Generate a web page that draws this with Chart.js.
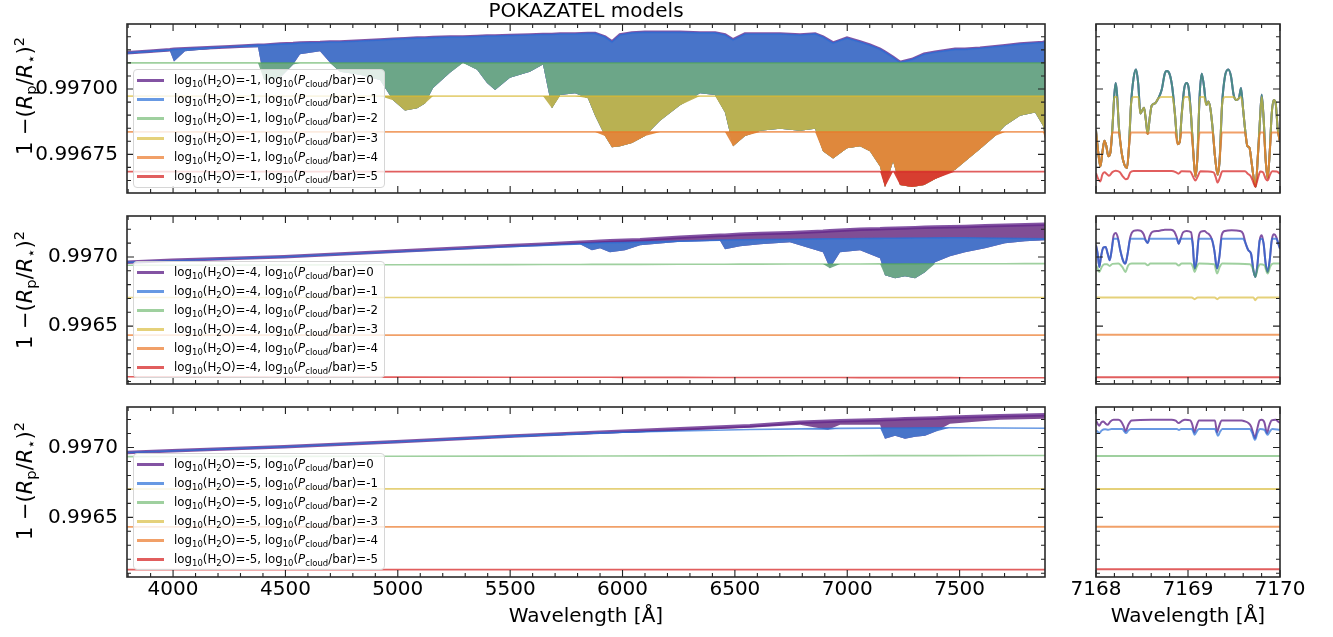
<!DOCTYPE html>
<html>
<head>
<meta charset="utf-8">
<script src="https://cdn.jsdelivr.net/npm/chart.js@4.4.1/dist/chart.umd.min.js"></script>
<style>
  html, body { margin: 0; padding: 0; background: #fff; }
  #fig { position: relative; width: 1333px; height: 637px; overflow: hidden; font-family: "DejaVu Sans", sans-serif; color: #000; }
  .ylab { position: absolute; font-size: 21px; white-space: pre; transform: translate(-50%, -50%) rotate(-90deg); }
  .ylab sub { font-size: 0.7em; vertical-align: -0.25em; line-height: 0; }
  .ylab sup { font-size: 0.7em; vertical-align: 0.55em; line-height: 0; }
  .legend { position: absolute; left: 133px; background: rgba(255,255,255,0.8); border: 1px solid #d6d6d6; border-radius: 4px; padding: 1px 6px 1px 3px; font-size: 11.8px; }
  .legend div { white-space: nowrap; }
  .legend .h { display: inline-block; width: 27px; height: 3px; margin-right: 10px; vertical-align: middle; }
  .legend sub { font-size: 0.72em; vertical-align: -0.3em; line-height: 0; }
</style>
</head>
<body>
<div id="fig"></div>
<script>
// labels
const h2oLabels = ['-1', '-4', '-5'];
const pcloudLabels = ['0', '-1', '-2', '-3', '-4', '-5'];

// transit depth (R_p/R_*)^2 in ppm; plotted as 1 - depth

// --- log10(H2O) = -1, broad range
const wlTop = [3795,3897,3986,4004,4053,4253,4378,4405,4476,4534,4565,4654,4698,4743,4832,4921,4979,5032,5086,5121,5157,5232,5290,5353,5397,5433,5499,5588,5646,5686,5722,5789,5846,5878,5922,5953,5989,6042,6100,6167,6256,6345,6412,6456,6492,6545,6612,6701,6790,6857,6892,6937,6999,7057,7101,7146,7168,7204,7235,7288,7342,7391,7480,7524,7591,7658,7702,7769,7836,7871,7880];
const contTop = [2861,2855,2850,2848,2846,2838,2832,2832,2828,2826,2824,2822,2820,2820,2816,2812,2809,2807,2805,2805,2803,2801,2801,2799,2797,2797,2795,2793,2791,2791,2789,2789,2787,2787,2801,2820,2793,2785,2783,2783,2783,2785,2785,2793,2812,2789,2789,2789,2793,2789,2801,2824,2805,2820,2832,2848,2859,2879,2898,2887,2867,2859,2848,2848,2844,2838,2834,2828,2824,2822,2820];
const deepTop = [2865,2859,2854,2895,2855,2840,2840,2965,2957,2906,2867,2855,2898,2934,2945,2965,3043,3082,3074,3055,2996,2938,2898,2926,2977,3004,2957,2934,2906,3074,3023,3016,3035,3102,3180,3223,3219,3207,3180,3121,3062,3016,3023,3090,3219,3180,3160,3152,3160,3152,3238,3266,3227,3219,3238,3297,3375,3277,3367,3375,3367,3344,3309,3277,3230,3180,3141,3102,3090,3141,3187];

// cloud decks (flat levels unless given as a curve)
const edgeWl = [3795, 7880];
const cloudTopGreen = [2900, 2900];
const cloudTopYellow = [3027, 3027];
const cloudTopOrange = [3164, 3164];
const cloudTopRed = [3316, 3316];

// --- log10(H2O) = -4
const wlMid = [3795,3995,4494,4992,5490,5646,5811,5864,5900,5944,6011,6078,6256,6434,6456,6523,6612,6745,6892,6923,6968,7057,7146,7168,7213,7257,7302,7346,7391,7457,7524,7613,7702,7791,7880];
const contMid = [3038,3024,2999,2959,2919,2908,2894,2890,2887,2883,2880,2876,2858,2843,2843,2836,2831,2825,2815,2811,2807,2800,2797,2795,2793,2791,2788,2786,2784,2781,2779,2775,2771,2768,2764];
const deepMid = [3042,3027,3002,2962,2926,2916,2908,2952,2937,2966,2952,2916,2890,2883,2944,2923,2908,2894,2966,3082,2966,2952,3009,3132,3154,3139,3154,3110,3038,2995,2966,2937,2901,2887,2880];
const cloudWl = [3795, 4494, 4992, 5490, 5908, 6501, 7022, 7499, 7880];
const cloudMidBlue = [3038, 2999, 2962, 2926, 2899, 2876, 2867, 2861, 2869];
const cloudMidGreen = [3060, 3048];
const cloudMidYellow = [3293, 3293];
const cloudMidOrange = [3565, 3565];
const cloudMidRed = [3866, 3873];

// --- log10(H2O) = -5
const wlBot = [3795,3995,4494,4992,5490,5900,6256,6567,6790,6914,6968,7146,7168,7213,7257,7302,7346,7391,7457,7680,7880];
const contBot = [3036,3024,2995,2959,2920,2891,2866,2844,2819,2812,2808,2801,2800,2797,2794,2792,2790,2788,2783,2772,2765];
const deepBot = [3038,3027,2999,2963,2927,2902,2880,2858,2837,2873,2837,2837,2938,2916,2938,2923,2916,2887,2830,2801,2794];
const cloudBotBlue = [3036, 2995, 2959, 2920, 2894, 2873, 2862, 2858, 2862];
const cloudBotGreen = [3065, 3057];
const cloudBotYellow = [3297, 3295];
const cloudBotOrange = [3568, 3568];
const cloudBotRed = [3874, 3874];

// --- zoom 7168-7170 A
const zoomEdge = [7168, 7170];
const zTopWl = [7168.000,7168.025,7168.047,7168.069,7168.091,7168.112,7168.134,7168.156,7168.178,7168.199,7168.214,7168.228,7168.250,7168.279,7168.308,7168.337,7168.359,7168.380,7168.409,7168.435,7168.460,7168.482,7168.504,7168.522,7168.540,7168.562,7168.583,7168.605,7168.641,7168.678,7168.714,7168.750,7168.772,7168.801,7168.830,7168.859,7168.888,7168.909,7168.931,7168.960,7168.986,7169.007,7169.033,7169.058,7169.080,7169.101,7169.127,7169.149,7169.174,7169.199,7169.221,7169.243,7169.268,7169.293,7169.322,7169.344,7169.370,7169.402,7169.438,7169.467,7169.496,7169.525,7169.554,7169.576,7169.598,7169.620,7169.645,7169.667,7169.692,7169.717,7169.736,7169.757,7169.783,7169.801,7169.822,7169.844,7169.866,7169.888,7169.909,7169.931,7169.953,7169.975,7170.000];
const zTopClear = [3159,3244,3296,3244,3198,3218,3257,3244,3152,3022,2977,3016,3152,3244,3289,3302,3218,3061,2957,2925,2983,3094,3081,3072,3113,3172,3113,3064,3055,3035,3003,2938,2931,2944,2996,3100,3211,3204,3100,2996,2977,2996,3100,3244,3335,3270,3022,2941,2990,3061,3048,3074,3152,3257,3328,3270,3061,2951,2925,2951,3022,3042,3035,2996,3074,3152,3218,3224,3283,3348,3374,3270,3113,3022,3113,3270,3341,3244,3100,3042,3055,3152,3204];
const zTopYellowDeck = 3030;
const zTopOrangeDeck = 3166;
const zTopRedWl = [7168.000,7168.025,7168.047,7168.069,7168.091,7168.120,7168.141,7168.178,7168.214,7168.257,7168.293,7168.322,7168.344,7168.373,7168.409,7168.822,7168.866,7168.895,7168.931,7169.025,7169.054,7169.080,7169.105,7169.134,7169.279,7169.301,7169.322,7169.348,7169.373,7169.620,7169.649,7169.678,7169.707,7169.732,7169.757,7169.786,7169.815,7169.844,7169.866,7169.891,7169.917,7169.964,7170.000];
const zTopRed = [3322,3345,3354,3328,3319,3326,3332,3318,3313,3318,3335,3345,3343,3319,3314,3314,3318,3324,3315,3316,3335,3350,3335,3315,3319,3337,3358,3337,3315,3315,3324,3332,3354,3374,3345,3316,3319,3343,3350,3328,3315,3316,3324];

const zMidWl = [7168.000,7168.018,7168.036,7168.054,7168.080,7168.105,7168.127,7168.149,7168.170,7168.192,7168.214,7168.236,7168.264,7168.293,7168.319,7168.344,7168.373,7168.409,7168.453,7168.489,7168.518,7168.540,7168.562,7168.583,7168.612,7168.678,7168.750,7168.815,7168.851,7168.877,7168.899,7168.920,7168.946,7168.986,7169.033,7169.051,7169.072,7169.094,7169.116,7169.141,7169.178,7169.207,7169.228,7169.257,7169.286,7169.315,7169.341,7169.366,7169.402,7169.475,7169.565,7169.598,7169.627,7169.656,7169.685,7169.714,7169.732,7169.754,7169.779,7169.801,7169.822,7169.844,7169.866,7169.888,7169.913,7169.935,7169.960,7169.982,7170.000];
const zMidPurple = [2916,2976,3072,3000,2932,2928,2976,3024,2952,2843,2827,2856,2952,3024,3048,2976,2856,2812,2807,2812,2836,2880,2899,2851,2819,2812,2803,2803,2817,2856,2904,2868,2822,2812,2822,2904,3084,3024,2856,2817,2812,2827,2836,2868,2952,3084,3000,2843,2812,2807,2812,2831,2904,2952,2976,3108,3144,3060,2880,2843,2904,3048,3108,3024,2868,2836,2856,2904,2940];
const zMidBlueDeck = 2868;
const zMidGreenWl = [7168.000,7168.018,7168.036,7168.062,7168.091,7168.120,7168.149,7168.178,7168.243,7168.286,7168.319,7168.351,7168.388,7168.533,7168.562,7168.591,7168.866,7168.899,7168.931,7169.033,7169.054,7169.072,7169.094,7169.120,7169.286,7169.315,7169.344,7169.373,7169.674,7169.710,7169.732,7169.757,7169.786,7169.830,7169.866,7169.895,7169.928,7170.000];
const zMidGreen = [3060,3084,3108,3072,3053,3053,3065,3050,3048,3072,3108,3060,3048,3048,3060,3048,3048,3062,3048,3048,3072,3108,3072,3048,3053,3120,3072,3048,3053,3096,3144,3084,3053,3060,3120,3067,3048,3048];
const zMidYellowWl = [7168.000,7169.040,7169.072,7169.105,7169.290,7169.318,7169.345,7169.710,7169.732,7169.757,7170.000];
const zMidYellow = [3293,3293,3305,3293,3293,3305,3293,3293,3312,3293,3293];
const zMidOrange = [3563, 3563];
const zMidRed = [3870, 3870];

const zBotPurpleWl = [7168.000,7168.018,7168.036,7168.058,7168.080,7168.105,7168.127,7168.156,7168.192,7168.243,7168.272,7168.301,7168.322,7168.351,7168.388,7168.605,7168.822,7168.866,7168.899,7168.931,7168.967,7169.025,7169.047,7169.069,7169.091,7169.120,7169.293,7169.315,7169.337,7169.366,7169.583,7169.620,7169.656,7169.685,7169.714,7169.728,7169.750,7169.779,7169.801,7169.830,7169.859,7169.880,7169.909,7169.953,7169.982,7170.000];
const zBotPurple = [2806,2830,2844,2820,2813,2830,2837,2813,2801,2801,2813,2849,2885,2837,2806,2801,2801,2808,2825,2811,2801,2806,2837,2892,2849,2806,2806,2892,2849,2806,2806,2813,2825,2849,2909,2933,2873,2806,2801,2820,2897,2849,2806,2801,2815,2825];
const zBotBlueWl = [7168.000,7168.018,7168.036,7168.062,7168.098,7168.134,7168.170,7168.286,7168.308,7168.326,7168.351,7168.380,7168.880,7168.902,7168.924,7169.040,7169.058,7169.072,7169.094,7169.120,7169.293,7169.312,7169.326,7169.348,7169.373,7169.674,7169.699,7169.728,7169.754,7169.783,7169.830,7169.851,7169.866,7169.888,7169.917,7170.000];
const zBotBlue = [2878,2887,2897,2878,2870,2873,2868,2868,2885,2897,2878,2868,2868,2875,2868,2868,2887,2909,2885,2868,2868,2897,2916,2887,2868,2868,2897,2945,2897,2868,2873,2897,2909,2887,2868,2873];
const zBotGreen = [3060, 3060];
const zBotYellow = [3297, 3297];
const zBotOrange = [3567, 3567];
const zBotRed = [3872, 3872];

// axis limits
const xRange = [3795, 7880];
const yRangeTop = [0.996602, 0.997249];
const yRangeMid = [0.996082, 0.997296];
const yRangeBot = [0.996073, 0.997290];

const lineColors = ['rgba(100,40,140,0.8)', 'rgba(40,110,215,0.7)', 'rgba(80,170,80,0.55)', 'rgba(215,185,50,0.65)', 'rgba(235,120,40,0.7)', 'rgba(215,40,40,0.75)'];
const fillColors = ['rgba(121,69,143,0.95)', 'rgba(70,119,204,0.95)', 'rgba(111,169,133,0.95)', 'rgba(190,177,79,0.95)', 'rgba(224,134,59,0.95)', 'rgba(214,58,47,0.95)'];

Chart.defaults.font.family = "'DejaVu Sans', sans-serif";
Chart.defaults.color = '#000';

const toValue = d => 1 - d / 1e6;
const isMajor = (v, step) => Math.abs(v / step - Math.round(v / step)) < 1e-6;

function interp(xs, ys, x) {
  if (x <= xs[0]) return ys[0];
  for (let i = 1; i < xs.length; i++) {
    if (x <= xs[i]) {
      const t = (x - xs[i - 1]) / (xs[i] - xs[i - 1]);
      return ys[i - 1] + t * (ys[i] - ys[i - 1]);
    }
  }
  return ys[ys.length - 1];
}

// each model = clear spectrum band cut at its cloud deck
function bandDatasets(wl, cont, deep, clouds) {
  const ds = [];
  clouds.forEach((cl, k) => {
    const hi = [], lo = [];
    wl.forEach((w, i) => {
      const c = cl ? interp(cl[0], cl[1], w) : 0;
      const h = Math.max(cont[i], c);
      hi.push({x: w, y: toValue(h)});
      lo.push({x: w, y: toValue(Math.max(deep[i], h))});
    });
    ds.push({data: hi, borderColor: lineColors[k], borderWidth: k === 0 ? 3.5 : 1.6,
             backgroundColor: fillColors[k], fill: '+1', order: 10 - k, pointRadius: 0});
    ds.push({data: lo, borderColor: 'rgba(0,0,0,0)', borderWidth: 1, fill: false, order: 10 - k, pointRadius: 0});
  });
  return ds;
}

function lineDataset(wl, depth, k) {
  return {data: wl.map((w, i) => ({x: w, y: toValue(depth[i])})), borderColor: lineColors[k], borderWidth: 2,
          fill: false, pointRadius: 0, cubicInterpolationMode: 'monotone', order: 10 - k};
}

function boxTicks(xMajor, yMajor) {
  return {
    id: 'boxTicks',
    afterDraw(chart) {
      const {ctx, chartArea: a} = chart;
      const sx = chart.scales.x, sy = chart.scales.y;
      ctx.save();
      ctx.strokeStyle = '#222';
      ctx.lineWidth = 1.1;
      ctx.beginPath();
      sx.ticks.forEach(t => {
        const p = sx.getPixelForValue(t.value);
        if (p < a.left - 0.5 || p > a.right + 0.5) return;
        const len = isMajor(t.value, xMajor) ? 7 : 4;
        ctx.moveTo(p, a.bottom); ctx.lineTo(p, a.bottom - len);
        ctx.moveTo(p, a.top); ctx.lineTo(p, a.top + len);
      });
      sy.ticks.forEach(t => {
        const p = sy.getPixelForValue(t.value);
        if (p < a.top - 0.5 || p > a.bottom + 0.5) return;
        const len = isMajor(t.value, yMajor) ? 7 : 4;
        ctx.moveTo(a.left, p); ctx.lineTo(a.left + len, p);
        ctx.moveTo(a.right, p); ctx.lineTo(a.right - len, p);
      });
      ctx.stroke();
      ctx.lineWidth = 1.6;
      ctx.strokeStyle = '#2a2a2a';
      ctx.strokeRect(a.left, a.top, a.right - a.left, a.bottom - a.top);
      ctx.restore();
    }
  };
}

function addChart(o) {
  const c = document.createElement('canvas');
  c.width = o.w; c.height = o.h;
  c.style.cssText = `position:absolute;left:${o.left}px;top:${o.top}px;width:${o.w}px;height:${o.h}px;`;
  document.getElementById('fig').appendChild(c);
  const font = {family: "'DejaVu Sans', sans-serif", size: 20};
  return new Chart(c, {
    type: 'line',
    data: {datasets: o.datasets},
    options: {
      responsive: false, animation: false, devicePixelRatio: 1,
      layout: {padding: o.padding},
      elements: {point: {radius: 0}},
      plugins: {legend: {display: false}, tooltip: {enabled: false}, title: o.title || {display: false}},
      scales: {
        x: {
          type: 'linear', min: o.xMin, max: o.xMax,
          grid: {display: false, drawTicks: false}, border: {display: false},
          ticks: {display: o.showX, stepSize: o.xStep, autoSkip: false, maxRotation: 0, includeBounds: false,
                  padding: 1, font, color: '#000',
                  callback: v => isMajor(v, o.xMajor) ? String(Math.round(v)) : ''},
          title: {display: o.showX, text: 'Wavelength [Å]', font, color: '#000', padding: {top: 0, bottom: 8}},
          afterFit: s => { s.height = o.showX ? 60 : 0; }
        },
        y: {
          type: 'linear', min: o.yMin, max: o.yMax,
          grid: {display: false, drawTicks: false}, border: {display: false},
          ticks: {display: o.showY, stepSize: o.yStep, autoSkip: false, includeBounds: false,
                  padding: 9, font, color: '#000',
                  callback: v => isMajor(v, o.yMajor) ? v.toFixed(o.yDigits) : ''},
          afterFit: s => { s.width = o.showY ? 127 : 0; }
        }
      }
    },
    plugins: [boxTicks(o.xMajor, o.yMajor)]
  });
}

// ---------- panels
const rows = [
  {top: 0, h: 223, pad: {left: 0, right: 30, top: 0, bottom: 30}, rTop: 14, rH: 189, rPad: {left: 30, right: 30, top: 10, bottom: 10},
   range: yRangeTop, yStep: 0.00005, yMajor: 0.00025, yDigits: 5, showX: false,
   left: bandDatasets(wlTop, contTop, deepTop, [null, null, [edgeWl, cloudTopGreen], [edgeWl, cloudTopYellow], [edgeWl, cloudTopOrange], [edgeWl, cloudTopRed]]),
   right: [
     lineDataset(zTopWl, zTopClear, 0),
     lineDataset(zTopWl, zTopClear, 1),
     lineDataset(zTopWl, zTopClear, 2),
     lineDataset(zTopWl, zTopClear.map(d => Math.max(d, zTopYellowDeck)), 3),
     lineDataset(zTopWl, zTopClear.map(d => Math.max(d, zTopOrangeDeck)), 4),
     lineDataset(zTopRedWl, zTopRed, 5)
   ],
   title: {display: true, text: 'POKAZATEL models', fullSize: false, padding: {top: 0, bottom: 0},
           font: {family: "'DejaVu Sans', sans-serif", size: 20, weight: 'normal'}, color: '#000'}},
  {top: 186, h: 228, pad: {left: 0, right: 30, top: 30, bottom: 30}, rTop: 206, rH: 188, rPad: {left: 30, right: 30, top: 10, bottom: 10},
   range: yRangeMid, yStep: 0.0001, yMajor: 0.0005, yDigits: 4, showX: false,
   left: bandDatasets(wlMid, contMid, deepMid, [null, [cloudWl, cloudMidBlue], [edgeWl, cloudMidGreen], [edgeWl, cloudMidYellow], [edgeWl, cloudMidOrange], [edgeWl, cloudMidRed]]),
   right: [
     lineDataset(zMidWl, zMidPurple, 0),
     lineDataset(zMidWl, zMidPurple.map(d => Math.max(d, zMidBlueDeck)), 1),
     lineDataset(zMidGreenWl, zMidGreen, 2),
     lineDataset(zMidYellowWl, zMidYellow, 3),
     lineDataset(zoomEdge, zMidOrange, 4),
     lineDataset(zoomEdge, zMidRed, 5)
   ]},
  {top: 377, h: 260, pad: {left: 0, right: 30, top: 30, bottom: 0}, rTop: 397, rH: 240, rPad: {left: 30, right: 30, top: 10, bottom: 0},
   range: yRangeBot, yStep: 0.0001, yMajor: 0.0005, yDigits: 4, showX: true,
   left: bandDatasets(wlBot, contBot, deepBot, [null, [cloudWl, cloudBotBlue], [edgeWl, cloudBotGreen], [edgeWl, cloudBotYellow], [edgeWl, cloudBotOrange], [edgeWl, cloudBotRed]]),
   right: [
     lineDataset(zBotPurpleWl, zBotPurple, 0),
     lineDataset(zBotBlueWl, zBotBlue, 1),
     lineDataset(zoomEdge, zBotGreen, 2),
     lineDataset(zoomEdge, zBotYellow, 3),
     lineDataset(zoomEdge, zBotOrange, 4),
     lineDataset(zoomEdge, zBotRed, 5)
   ]}
];

rows.forEach(r => {
  addChart({left: 0, top: r.top, w: 1075, h: r.h, padding: r.pad, datasets: r.left, title: r.title,
            xMin: xRange[0], xMax: xRange[1], xStep: 100, xMajor: 500, showX: r.showX,
            yMin: r.range[0], yMax: r.range[1], yStep: r.yStep, yMajor: r.yMajor, yDigits: r.yDigits, showY: true});
  addChart({left: 1066, top: r.rTop, w: 244, h: r.rH, padding: r.rPad, datasets: r.right,
            xMin: zoomEdge[0], xMax: zoomEdge[1], xStep: 0.2, xMajor: 1, showX: r.showX,
            yMin: r.range[0], yMax: r.range[1], yStep: r.yStep, yMajor: r.yMajor, yDigits: r.yDigits, showY: false});
});

// ---------- axis titles and legends (rich text)
const fig = document.getElementById('fig');
[96, 290, 481].forEach(cy => {
  const d = document.createElement('div');
  d.className = 'ylab';
  d.style.left = '25px';
  d.style.top = cy + 'px';
  d.innerHTML = '1 −(<i>R</i><sub>p</sub>/<i>R</i><sub>⋆</sub>)<sup>2</sup>';
  fig.appendChild(d);
});

const legendTops = [69, 261, 453];
const legendRowHeights = [19.2, 18.9, 18.9];
h2oLabels.forEach((h2o, j) => {
  const box = document.createElement('div');
  box.className = 'legend';
  box.style.top = legendTops[j] + 'px';
  box.style.lineHeight = legendRowHeights[j] + 'px';
  box.innerHTML = pcloudLabels.map((p, k) =>
    `<div><span class="h" style="background:${lineColors[k]}"></span>log<sub>10</sub>(H<sub>2</sub>O)=${h2o}, log<sub>10</sub>(<i>P</i><sub>cloud</sub>/bar)=${p}</div>`
  ).join('');
  fig.appendChild(box);
});
</script>
</body>
</html>
